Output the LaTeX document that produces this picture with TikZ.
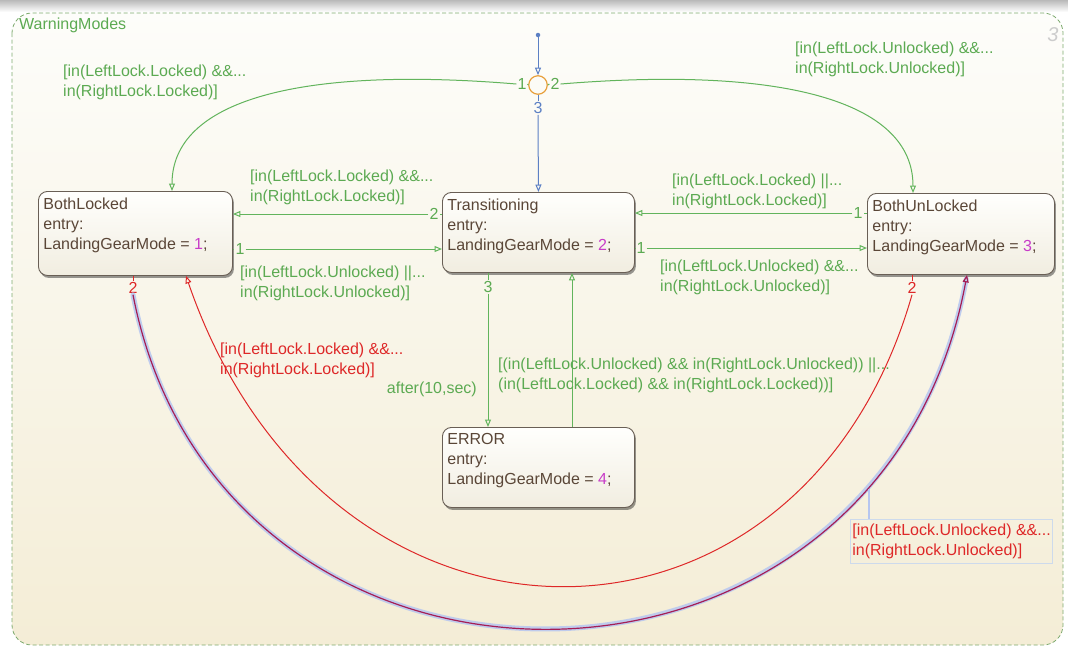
\documentclass[tikz,border=0pt]{standalone}
\usepackage{fontspec}
\setmainfont{Liberation Sans}
\usetikzlibrary{arrows.meta,shadows}

\definecolor{trgreen}{RGB}{98,180,92}
\definecolor{lblgreen}{RGB}{92,170,82}
\definecolor{defblue}{RGB}{92,128,196}
\definecolor{junc}{RGB}{232,160,60}
\definecolor{trred}{RGB}{222,40,40}
\definecolor{hlline}{RGB}{165,30,85}
\definecolor{hlglow}{RGB}{182,198,240}
\definecolor{hlbox}{RGB}{205,218,236}
\definecolor{stborder}{RGB}{105,95,85}
\definecolor{sttext}{RGB}{90,70,55}
\definecolor{stnum}{RGB}{200,60,200}
\definecolor{chartborder}{RGB}{125,170,110}
\definecolor{bgtop}{RGB}{253,253,250}
\definecolor{bgbot}{RGB}{244,237,214}
\definecolor{stfilltop}{RGB}{255,255,253}
\definecolor{stfillbot}{RGB}{241,237,224}

% state body: name, entry action and the mode value
\newcommand\stateText[4]{\parbox[t][#2][t]{#1}{#3\\entry:\\LandingGearMode = \textcolor{stnum}{#4};}}

\tikzset{
  opentip/.style={-{Triangle[open,length=7.5pt,width=6pt]}},
  chartframe/.style={draw=chartborder, dash pattern=on 4pt off 2.5pt, line width=0.8pt,
    rounded corners=20pt, top color=bgtop, bottom color=bgbot},
  statebox/.style={anchor=north west, draw=stborder, line width=0.9pt, rounded corners=9pt,
    top color=stfilltop, bottom color=stfillbot, text=sttext,
    inner xsep=5pt, inner ysep=6pt,
    drop shadow={shadow xshift=1.5pt, shadow yshift=-2.5pt, fill=black, opacity=0.4}},
  lbl/.style={inner sep=0pt, anchor=north west, align=left},
  condg/.style={lbl, text=lblgreen},
  condr/.style={lbl, text=trred},
  redbox/.style={lbl, text=trred, draw=hlbox, line width=0.8pt, inner xsep=2pt, inner ysep=4.5pt,
    minimum width=202pt},
  num/.style={inner sep=1pt},
  numg/.style={num, text=lblgreen},
  numr/.style={num, text=trred},
  numb/.style={num, text=defblue},
  seg/.style={draw=trgreen, line width=1pt},
  trans/.style={seg, opentip},
  defseg/.style={draw=defblue, line width=1pt},
  deftrans/.style={defseg, opentip},
  redseg/.style={draw=trred, line width=1pt},
  redtrans/.style={redseg, opentip},
  hlhalo/.style={draw=hlglow, line width=5pt, opacity=0.85, line cap=round},
  hltrans/.style={draw=hlline, line width=1.2pt, opentip},
  hlseg/.style={draw=hlglow, line width=1.2pt},
}

\begin{document}
\begin{tikzpicture}[x=1pt, y=-1pt, every node/.append style={font=\fontsize{16}{20}\selectfont}]
\useasboundingbox (0,0) rectangle (1068,649);

% window edge along the top
\shade[top color=gray!55, bottom color=white] (0,0) rectangle (1068,12);

% chart frame
\draw[chartframe] (12,13) rectangle (1063,645);
\node[anchor=west, text=lblgreen, inner sep=0pt] (title) at (19,25) {WarningModes};
\node[text=gray!40, font=\fontsize{20}{20}\selectfont\itshape, inner sep=0pt] (chartno) at (1053,35) {3};

% states
\node[statebox] (BL) at (38,191) {\stateText{184pt}{72pt}{BothLocked}{1}};
\node[statebox] (TR) at (442,192) {\stateText{182pt}{68pt}{Transitioning}{2}};
\node[statebox] (BU) at (867,193) {\stateText{177pt}{69pt}{BothUnLocked}{3}};
\node[statebox] (ER) at (442,427) {\stateText{182pt}{68pt}{ERROR}{4}};

% default transition and junction
\node[circle, fill=defblue, inner sep=0pt, minimum size=4.5pt] (dot) at (538,35) {};
\node[circle, draw=junc, line width=1.2pt, inner sep=0pt, minimum size=18.5pt] (J) at (538,85) {};
\node[numg] (j1) at (522,84) {1};
\node[numg] (j2) at (555,84) {2};
\node[numb] (j3) at (538,108) {3};
\draw[deftrans] (dot) -- (J.north);
\draw[seg] (J.west) -- (j1.east);
\draw[trans] (j1.west) .. controls (300,66) and (172,100) .. (BL.north -| 172,0);
\draw[seg] (J.east) -- (j2.west);
\draw[trans] (j2.east) .. controls (780,66) and (913,100) .. (BU.north -| 913,0);
\draw[defseg] (J.south) -- (j3.north);
\draw[deftrans] (j3.south) -- (TR.north);

% BothLocked <-> Transitioning
\node[numg] (t2) at (434,214) {2};
\draw[seg] (TR.west |- t2) -- (t2.east);
\draw[trans] (t2.west) -- (BL.east |- t2);
\node[numg] (b1) at (240,249) {1};
\draw[seg] (BL.east |- b1) -- (b1.west);
\draw[trans] (b1.east) -- (TR.west |- b1);

% Transitioning <-> BothUnLocked
\node[numg] (u1) at (858,213) {1};
\draw[seg] (BU.west |- u1) -- (u1.east);
\draw[trans] (u1.west) -- (TR.east |- u1);
\node[numg] (t1) at (641,248) {1};
\draw[seg] (TR.east |- t1) -- (t1.west);
\draw[trans] (t1.east) -- (BU.west |- t1);

% Transitioning <-> ERROR
\node[numg] (t3) at (488,287) {3};
\draw[seg] (TR.south -| t3) -- (t3.north);
\draw[trans] (t3.south) -- (ER.north -| t3);
\draw[trans] (ER.north -| 572,0) -- (TR.south -| 572,0);

% BothUnLocked -> BothLocked
\node[numr] (r2) at (912,288) {2};
\draw[redseg] (BU.south -| r2) -- (r2.north);
\draw[redtrans] (r2.south) .. controls (800,686) and (327,686) .. (BL.south -| 186,0);

% BothLocked -> BothUnLocked (highlighted)
\node[numr] (o2) at (133,288) {2};
\draw[redseg] (BL.south -| o2) -- (o2.north);
\draw[hlhalo, shorten >=4pt] (o2.south) .. controls (220,743) and (880,743) .. (BU.south -| 967,0);
\draw[hltrans] (o2.south) .. controls (220,743) and (880,743) .. (BU.south -| 967,0);

% guards
\node[condg] (cTL) at (63,65) {[in(LeftLock.Locked) \&\&...\\in(RightLock.Locked)]};
\node[condg] (cTR) at (795,42) {[in(LeftLock.Unlocked) \&\&...\\in(RightLock.Unlocked)]};
\node[condg] (cTB) at (250,170) {[in(LeftLock.Locked) \&\&...\\in(RightLock.Locked)]};
\node[condg] (cBT) at (240,266) {[in(LeftLock.Unlocked) ||...\\in(RightLock.Unlocked)]};
\node[condg] (cUT) at (672,174) {[in(LeftLock.Locked) ||...\\in(RightLock.Locked)]};
\node[condg] (cTU) at (660,260) {[in(LeftLock.Unlocked) \&\&...\\in(RightLock.Unlocked)]};
\node[condr] (cUL) at (220,343) {[in(LeftLock.Locked) \&\&...\\in(RightLock.Locked)]};
\node[condg, anchor=north east] (cTE) at (477,382) {after(10,sec)};
\node[condg] (cET) at (498,358) {[(in(LeftLock.Unlocked) \&\& in(RightLock.Unlocked)) ||...\\(in(LeftLock.Locked) \&\& in(RightLock.Locked))]};
\node[redbox] (cLU) at (850,519) {[in(LeftLock.Unlocked) \&\&...\\in(RightLock.Unlocked)]};
\coordinate (hook) at (869,489);
\draw[hlseg] (hook) -- (cLU.north -| hook);
\end{tikzpicture}
\end{document}
